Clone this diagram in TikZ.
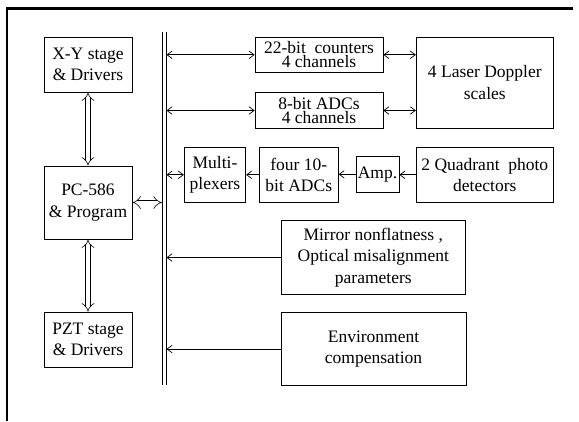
\documentclass[tikz,border=0pt]{standalone}
\usepackage{fontspec}
\setmainfont{Liberation Serif}
\usetikzlibrary{arrows.meta}
\begin{document}
\begin{tikzpicture}[x=1pt,y=-1pt,
  blk/.style={draw, line width=0.8pt, inner sep=0pt, align=center,
    font=\fontsize{17.5}{21.5}\selectfont},
  tight/.style={font=\fontsize{17.5}{14}\selectfont},
  conn/.style={line width=0.7pt, >={Straight Barb[length=5pt,width=7.5pt]}},
  busline/.style={line width=0.8pt},
  dbl/.style={double, double distance=4pt, line width=0.6pt, {Implies}-{Implies}}]
\useasboundingbox (0,0) rectangle (579,421);
% frame
\draw[line width=2.6pt] (573,8.5) -- (7,8.5) -- (7,421);
% bus (two parallel lines)
\coordinate (busLT) at (162.3,32);
\coordinate (busLB) at (162.3,385);
\coordinate (busRT) at (166.1,32);
\coordinate (busRB) at (166.1,385);
\draw[busline] (busLT) -- (busLB);
\draw[busline] (busRT) -- (busRB);
% blocks
\node[blk, minimum width=88pt, minimum height=55pt] (xy) at (88,64.5) {X-Y stage\\\& Drivers};
\node[blk, minimum width=88pt, minimum height=73pt] (pc) at (88,202.5) {PC-586\\\& Program};
\node[blk, minimum width=88pt, minimum height=55pt] (pzt) at (88,339.5) {PZT stage\\\& Drivers};
\node[blk, tight, minimum width=128pt, minimum height=35.7pt] (cnt) at (319,54.8) {22-bit\ \ counters\\4 channels};
\node[blk, tight, minimum width=128pt, minimum height=35.6pt] (adc8) at (319,110.5) {8-bit ADCs\\4 channels};
\node[blk, minimum width=137pt, minimum height=91.3pt] (laser) at (484.8,82.7) {4 Laser Doppler\\scales};
\node[blk, minimum width=61.4pt, minimum height=55pt, font=\fontsize{17.5}{20.5}\selectfont] (mux) at (215,174.8) {Multi-\\plexers};
\node[blk, minimum width=79pt, minimum height=55pt] (adc10) at (298.8,174.8) {four 10-\\bit ADCs};
\node[blk, minimum width=43pt, minimum height=36.7pt] (amp) at (377.5,174.3) {Amp.};
\node[blk, minimum width=137pt, minimum height=55pt] (quad) at (484.8,174.8) {2 Quadrant\ \ photo\\detectors};
\node[blk, minimum width=184.7pt, minimum height=73.6pt] (mirror) at (373.3,257.5) {Mirror nonflatness ,\\Optical misalignment\\parameters};
\node[blk, minimum width=185pt, minimum height=73.4pt] (env) at (373.5,349) {Environment\\compensation};
% double arrows
\draw[dbl] (xy.south) -- (pc.north);
\draw[dbl] (pc.south) -- (pzt.north);
\draw[dbl] (pc.east) -- ([xshift=-0.4pt]pc.east -| busLT);
% bus connections
\draw[conn,<->] ([xshift=0.4pt]cnt.west -| busRT) -- (cnt.west);
\draw[conn,<->] ([xshift=0.4pt]adc8.west -| busRT) -- (adc8.west);
\draw[conn,<->] ([xshift=0.4pt]mux.west -| busRT) -- (mux.west);
\draw[conn,->] (mirror.west) -- ([xshift=0.4pt]mirror.west -| busRT);
\draw[conn,->] (env.west) -- ([xshift=0.4pt]env.west -| busRT);
% right side
\draw[conn,<->] (cnt.east) -- (cnt.east -| laser.west);
\draw[conn,<->] (adc8.east) -- (adc8.east -| laser.west);
\draw[conn,->] (adc10.west) -- (adc10.west -| mux.east);
\draw[conn,->] (amp.west) -- (amp.west -| adc10.east);
\draw[conn,->] (quad.west) -- (quad.west -| amp.east);
\end{tikzpicture}
\end{document}
